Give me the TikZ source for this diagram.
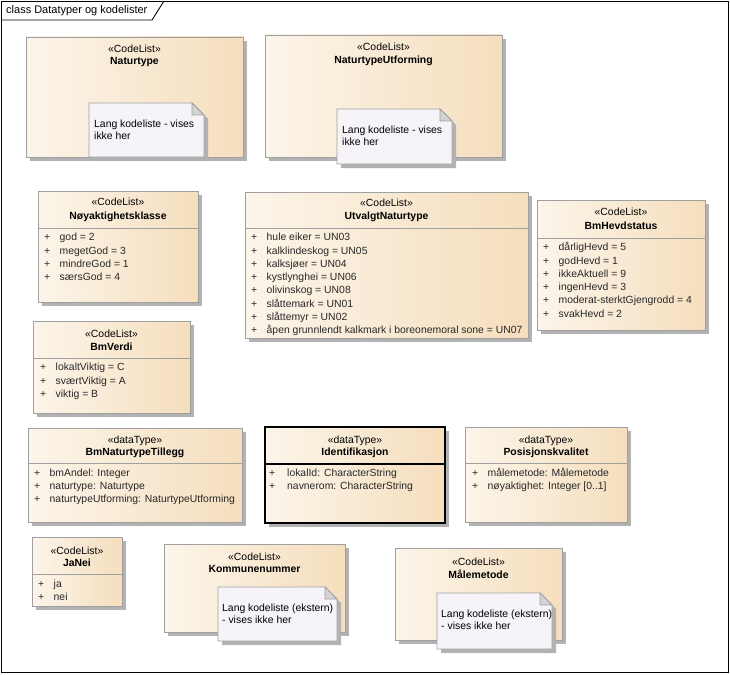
\documentclass[tikz,border=0pt]{standalone}
\usepackage{fontspec}
\setmainfont{Liberation Sans}
\usetikzlibrary{positioning,shadows}

\definecolor{boxleft}{RGB}{252,245,234}
\definecolor{boxright}{RGB}{245,222,189}
\definecolor{boxline}{RGB}{160,160,160}
\definecolor{shadowgray}{RGB}{178,178,178}
\definecolor{notefill}{RGB}{247,244,249}
\definecolor{foldgray}{RGB}{212,212,214}
\definecolor{attrtext}{RGB}{40,40,40}

\tikzset{
	boxshadow/.style={drop shadow={shadow xshift=4pt, shadow yshift=-4pt, fill=shadowgray, opacity=1}},
	classbox/.style={boxshadow, draw=boxline, line width=0.9pt, left color=boxleft, right color=boxright,
		anchor=north west, inner sep=0pt, outer sep=0pt},
	selbox/.style={classbox, draw=black, line width=1.3pt},
	sepline/.style={draw=boxline, line width=0.9pt},
	notebox/.style={boxshadow, draw=boxline, line width=0.9pt, fill=notefill},
	notefold/.style={draw=boxline, line width=0.9pt, fill=foldgray},
	stereo/.style={font=\fontsize{10.4}{12}\selectfont, inner sep=0pt},
	cname/.style={font=\fontsize{10.4}{12}\selectfont\bfseries, inner sep=0pt},
	attr/.style={font=\fontsize{10.4}{12}\selectfont, text=attrtext, anchor=west, inner sep=0pt,
		text height=7.6pt, text depth=2.2pt},
	notetext/.style={font=\fontsize{10.4}{12}\selectfont, align=left, anchor=north west, inner sep=0pt},
}
\newcommand{\plusitem}{\makebox[15.5pt][l]{+}}

\begin{document}
\begin{tikzpicture}[x=1pt,y=-1pt]
	\useasboundingbox (0,0) rectangle (730,674);
	
	%frame
	\draw[line width=0.9pt] (1,1) rectangle (728,672);
	\draw[line width=0.9pt] (1,20) -- (152,20) -- (164,1);
	\node[anchor=west, inner sep=0pt, font=\fontsize{11}{12}\selectfont] (frametitle) at (6,11) {class Datatyper og kodelister};
	
	%first row
	\node[classbox, minimum width=217, minimum height=120] (naturtype) at (26,37) {};
	\node[stereo] (naturtype-st) at (134.5,49) {«CodeList»};
	\node[cname]  (naturtype-nm) at (134.5,62) {Naturtype};
	\draw[notebox] (89,103) -- (192,103) -- (204,115) -- (204,157) -- (89,157) -- cycle;	%note
	\draw[notefold] (192,103) -- (192,115) -- (204,115) -- cycle;
	\node[notetext] (naturtype-note) at (94,119.5) {Lang kodeliste - vises\\ikke her};
	
	\node[classbox, minimum width=237, minimum height=122] (utforming) at (265,35) {};
	\node[stereo] (utforming-st) at (383.5,47) {«CodeList»};
	\node[cname]  (utforming-nm) at (383.5,61) {NaturtypeUtforming};
	\draw[notebox] (337,109) -- (440,109) -- (452,121) -- (452,164) -- (337,164) -- cycle;	%note
	\draw[notefold] (440,109) -- (440,121) -- (452,121) -- cycle;
	\node[notetext] (utforming-note) at (342,125.5) {Lang kodeliste - vises\\ikke her};
	
	%second row
	\node[classbox, minimum width=160, minimum height=111] (noyaktighet) at (38,191) {};
	\node[stereo] (noyaktighet-st) at (118,202) {«CodeList»};
	\node[cname]  (noyaktighet-nm) at (118,217) {Nøyaktighetsklasse};
	\draw[sepline] (noyaktighet.west |- 0,228) -- (noyaktighet.east |- 0,228);
	\node[attr] (noyaktighet-a1) at (44,238)   {\plusitem god = 2};
	\node[attr] (noyaktighet-a2) at (44,251.3) {\plusitem megetGod = 3};
	\node[attr] (noyaktighet-a3) at (44,264.6) {\plusitem mindreGod = 1};
	\node[attr] (noyaktighet-a4) at (44,277.9) {\plusitem særsGod = 4};
	
	\node[classbox, minimum width=283, minimum height=146] (utvalgt) at (245,192) {};
	\node[stereo] (utvalgt-st) at (386.5,203) {«CodeList»};
	\node[cname]  (utvalgt-nm) at (386.5,217) {UtvalgtNaturtype};
	\draw[sepline] (utvalgt.west |- 0,228) -- (utvalgt.east |- 0,228);
	\node[attr] (utvalgt-a1) at (251,238)   {\plusitem hule eiker = UN03};
	\node[attr] (utvalgt-a2) at (251,251.3) {\plusitem kalklindeskog = UN05};
	\node[attr] (utvalgt-a3) at (251,264.6) {\plusitem kalksjøer = UN04};
	\node[attr] (utvalgt-a4) at (251,277.9) {\plusitem kystlynghei = UN06};
	\node[attr] (utvalgt-a5) at (251,291.2) {\plusitem olivinskog = UN08};
	\node[attr] (utvalgt-a6) at (251,304.5) {\plusitem slåttemark = UN01};
	\node[attr] (utvalgt-a7) at (251,317.8) {\plusitem slåttemyr = UN02};
	\node[attr] (utvalgt-a8) at (251,331.1) {\plusitem åpen grunnlendt kalkmark i boreonemoral sone = UN07};
	
	\node[classbox, minimum width=168, minimum height=130] (hevdstatus) at (537,200) {};
	\node[stereo] (hevdstatus-st) at (621,212) {«CodeList»};
	\node[cname]  (hevdstatus-nm) at (621,226) {BmHevdstatus};
	\draw[sepline] (hevdstatus.west |- 0,238) -- (hevdstatus.east |- 0,238);
	\node[attr] (hevdstatus-a1) at (543,248)   {\plusitem dårligHevd = 5};
	\node[attr] (hevdstatus-a2) at (543,261.3) {\plusitem godHevd = 1};
	\node[attr] (hevdstatus-a3) at (543,274.6) {\plusitem ikkeAktuell = 9};
	\node[attr] (hevdstatus-a4) at (543,287.9) {\plusitem ingenHevd = 3};
	\node[attr] (hevdstatus-a5) at (543,301.2) {\plusitem moderat-sterktGjengrodd = 4};
	\node[attr] (hevdstatus-a6) at (543,314.5) {\plusitem svakHevd = 2};
	
	%third row
	\node[classbox, minimum width=157, minimum height=92] (verdi) at (33,321) {};
	\node[stereo] (verdi-st) at (111.5,334) {«CodeList»};
	\node[cname]  (verdi-nm) at (111.5,347) {BmVerdi};
	\draw[sepline] (verdi.west |- 0,358) -- (verdi.east |- 0,358);
	\node[attr] (verdi-a1) at (40,368)   {\plusitem lokaltViktig = C};
	\node[attr] (verdi-a2) at (40,381.3) {\plusitem sværtViktig = A};
	\node[attr] (verdi-a3) at (40,394.6) {\plusitem viktig = B};
	
	%fourth row
	\node[classbox, minimum width=214, minimum height=94] (tillegg) at (28,428) {};
	\node[stereo] (tillegg-st) at (135,441) {«dataType»};
	\node[cname]  (tillegg-nm) at (135,453) {BmNaturtypeTillegg};
	\draw[sepline] (tillegg.west |- 0,463) -- (tillegg.east |- 0,463);
	\node[attr] (tillegg-a1) at (34,473.5) {\plusitem bmAndel: Integer};
	\node[attr] (tillegg-a2) at (34,486.8) {\plusitem naturtype: Naturtype};
	\node[attr] (tillegg-a3) at (34,500.1) {\plusitem naturtypeUtforming: NaturtypeUtforming};
	
	\node[selbox, minimum width=180, minimum height=96] (identifikasjon) at (265,427) {};
	\node[stereo] (identifikasjon-st) at (355,441) {«dataType»};
	\node[cname]  (identifikasjon-nm) at (355,453) {Identifikasjon};
	\draw[line width=1.1pt] (identifikasjon.west |- 0,464) -- (identifikasjon.east |- 0,464);
	\node[attr] (identifikasjon-a1) at (269,473.5) {\makebox[18pt][l]{+}lokalId: CharacterString};
	\node[attr] (identifikasjon-a2) at (269,486.8) {\makebox[18pt][l]{+}navnerom: CharacterString};
	
	\node[classbox, minimum width=162, minimum height=95] (posisjon) at (465,427) {};
	\node[stereo] (posisjon-st) at (546,441) {«dataType»};
	\node[cname]  (posisjon-nm) at (546,453) {Posisjonskvalitet};
	\draw[sepline] (posisjon.west |- 0,463) -- (posisjon.east |- 0,463);
	\node[attr] (posisjon-a1) at (472,473.5) {\plusitem målemetode: Målemetode};
	\node[attr] (posisjon-a2) at (472,486.8) {\plusitem nøyaktighet: Integer [0..1]};
	
	%bottom row
	\node[classbox, minimum width=90, minimum height=69] (janei) at (32,537) {};
	\node[stereo] (janei-st) at (77,551) {«CodeList»};
	\node[cname]  (janei-nm) at (77,563) {JaNei};
	\draw[sepline] (janei.west |- 0,574) -- (janei.east |- 0,574);
	\node[attr] (janei-a1) at (38,584.5) {\plusitem ja};
	\node[attr] (janei-a2) at (38,597.8) {\plusitem nei};
	
	\node[classbox, minimum width=181, minimum height=88] (kommune) at (164,544) {};
	\node[stereo] (kommune-st) at (254.5,557) {«CodeList»};
	\node[cname]  (kommune-nm) at (254.5,569) {Kommunenummer};
	\draw[notebox] (218,587) -- (325,587) -- (337,599) -- (337,641) -- (218,641) -- cycle;	%note
	\draw[notefold] (325,587) -- (325,599) -- (337,599) -- cycle;
	\node[notetext] (kommune-note) at (222,603.5) {Lang kodeliste (ekstern)\\- vises ikke her};
	
	\node[classbox, minimum width=167, minimum height=92] (malemetode) at (395,548) {};
	\node[stereo] (malemetode-st) at (478.5,562) {«CodeList»};
	\node[cname]  (malemetode-nm) at (478.5,574) {Målemetode};
	\draw[notebox] (437,593) -- (540,593) -- (552,605) -- (552,649) -- (437,649) -- cycle;	%note
	\draw[notefold] (540,593) -- (540,605) -- (552,605) -- cycle;
	\node[notetext] (malemetode-note) at (441,609.5) {Lang kodeliste (ekstern)\\- vises ikke her};
\end{tikzpicture}
\end{document}
